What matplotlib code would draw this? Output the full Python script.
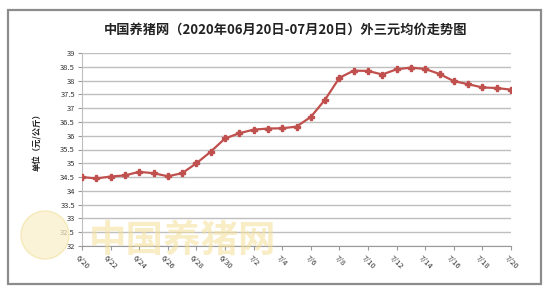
import matplotlib
matplotlib.use("Agg")
import matplotlib.pyplot as plt
from matplotlib.patches import Rectangle, Ellipse

plt.rcParams['font.family'] = ['Noto Sans CJK SC', 'DejaVu Sans']

# 外三元均价 2020-06-20 .. 2020-07-20 (元/公斤)
dates = ["6/20", "6/21", "6/22", "6/23", "6/24", "6/25", "6/26", "6/27", "6/28", "6/29",
         "6/30", "7/1", "7/2", "7/3", "7/4", "7/5", "7/6", "7/7", "7/8", "7/9",
         "7/10", "7/11", "7/12", "7/13", "7/14", "7/15", "7/16", "7/17", "7/18", "7/19", "7/20"]
prices = [34.50, 34.45, 34.52, 34.56, 34.69, 34.64, 34.53, 34.64, 35.00, 35.42,
          35.90, 36.09, 36.22, 36.26, 36.27, 36.33, 36.68, 37.31, 38.10, 38.36,
          38.35, 38.22, 38.41, 38.47, 38.42, 38.24, 37.98, 37.87, 37.75, 37.73, 37.67]
yticks = [32, 32.5, 33, 33.5, 34, 34.5, 35, 35.5, 36, 36.5, 37, 37.5, 38, 38.5, 39]

W, H = 550, 293
fig = plt.figure(figsize=(W / 100, H / 100), dpi=100)

# outer frame
fig.patches.append(Rectangle((8 / W, 1 - 284 / H), 533 / W, 274 / H, transform=fig.transFigure,
                             fill=False, edgecolor='#8c8c8c', lw=1.6))

ax = fig.add_axes([82 / W, 1 - 246 / H, 429 / W, 193 / H])
x = list(range(len(dates)))

ax.plot(x, prices, color='#c0504d', lw=1.6, marker='P', markersize=4.5, zorder=3)

ax.set_xlim(0, len(dates) - 1)
ax.set_ylim(32, 39)
ax.set_yticks(yticks)
ax.set_yticklabels([f"{v:g}" for v in yticks], fontsize=5.5, color='#333333')
ax.yaxis.grid(True, color='#bfbfbf', lw=1)
ax.set_axisbelow(True)

ax.set_xticks(x[::2])
ax.set_xticklabels(dates[::2], rotation=-45, ha='center', fontsize=5.5, color='#333333')
ax.tick_params(axis='x', length=3, color='#999999', pad=3)
ax.tick_params(axis='y', length=3, color='#999999', pad=2)

for side in ['top', 'right']:
    ax.spines[side].set_visible(False)
ax.spines['left'].set_color('#bfbfbf')
ax.spines['bottom'].set_color('#999999')

# faint watermark, drawn over the plot
fig.patches.append(Ellipse((45 / W, 1 - 235 / H), 48 / W, 48 / H, transform=fig.transFigure,
                           facecolor='#f9efc6', edgecolor='#f3e3a6', lw=1, alpha=0.7, zorder=5))
fig.text(182 / W, 1 - 240 / H, "中国养猪网", fontsize=27, fontweight='bold', color='#f5df97',
         alpha=0.55, ha='center', va='center', zorder=5)

fig.text(286 / W, 1 - 30 / H, "中国养猪网（2020年06月20日-07月20日）外三元均价走势图",
         fontsize=9.5, fontweight='bold', color='#222222', ha='center', va='center')
fig.text(38 / W, 1 - 140 / H, "单位（元/公斤）", rotation=90, fontsize=6, fontweight='bold',
         color='#222222', ha='center', va='center')

fig.savefig("out.png", dpi=100)
